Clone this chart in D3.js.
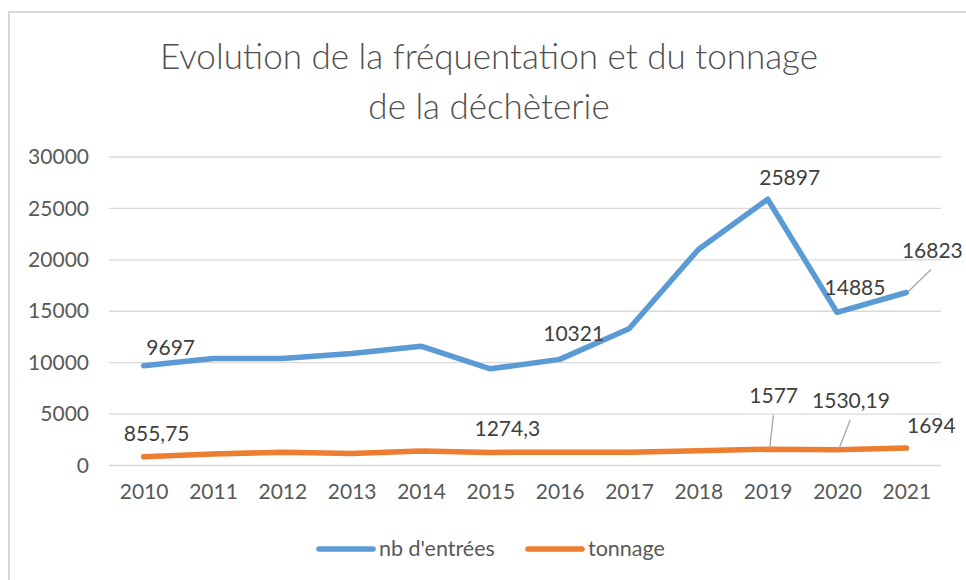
<!DOCTYPE html>
<html>
<head>
<meta charset="utf-8">
<script src="https://cdn.jsdelivr.net/npm/d3@7"></script>
<style>
  body { margin: 0; background: #fff; }
  svg { display: block; font-family: Lato, "Open Sans", sans-serif; }
</style>
</head>
<body>
<div id="chart"></div>
<script>
// données du graphique
var years = ['2010', '2011', '2012', '2013', '2014', '2015', '2016', '2017', '2018', '2019', '2020', '2021'];
var entrees = [9697, 10400, 10400, 10900, 11600, 9400, 10321, 13300, 21000, 25897, 14885, 16823];
var tonnage = [855.75, 1110, 1300, 1170, 1420, 1274.3, 1290, 1300, 1440, 1577, 1530.19, 1694];
var yTicks = [0, 5000, 10000, 15000, 20000, 25000, 30000];
var titleLines = ['Evolution de la fréquentation et du tonnage', 'de la déchèterie'];
var seriesNames = ["nb d'entrées", 'tonnage'];

var W = 966, H = 580;
var colors = ['#5b9bd5', '#ed7d31'];

var svg = d3.select('#chart').append('svg')
    .attr('width', W)
    .attr('height', H);

// cadre du graphique (coupé à droite et en bas)
svg.append('rect')
    .attr('x', 9).attr('y', 12)
    .attr('width', 1000).attr('height', 1000)
    .attr('fill', '#fff')
    .attr('stroke', '#d9d9d9')
    .attr('stroke-width', 2)

// titre
svg.append('g').selectAll('text')
    .data(titleLines)
    .enter().append('text')
    .attr('x', 489)
    .attr('y', (d, i) => 69 + i * 50)
    .attr('text-anchor', 'middle')
    .attr('font-size', 35)
    .attr('font-weight', 300)
    .attr('fill', '#505050')
    .text(d => d)

var x = d3.scalePoint()
    .domain(years)
    .range([109, 941])
    .padding(0.5)

var y = d3.scaleLinear()
    .domain([0, 30000])
    .range([465.5, 157])

// grille
svg.append('g').selectAll('line')
    .data(yTicks)
    .enter().append('line')
    .attr('x1', 109).attr('x2', 941)
    .attr('y1', d => y(d)).attr('y2', d => y(d))
    .attr('stroke', '#d9d9d9')
    .attr('stroke-width', 1.3)

var yAxis = svg.append('g')
    .attr('transform', 'translate(89,0)')
    .call(d3.axisLeft(y).tickValues(yTicks).tickSize(0).tickPadding(0).tickFormat(d3.format('d')))
yAxis.select('.domain').remove()
yAxis.selectAll('text')
    .attr('font-size', 21)
    .attr('font-family', 'Lato, "Open Sans", sans-serif')
    .attr('fill', '#595959')

var xAxis = svg.append('g')
    .attr('transform', 'translate(0,484)')
    .call(d3.axisBottom(x).tickSize(0).tickPadding(0))
xAxis.select('.domain').remove()
xAxis.selectAll('text')
    .attr('font-size', 21)
    .attr('font-family', 'Lato, "Open Sans", sans-serif')
    .attr('fill', '#595959')

var line = d3.line()
    .x((d, i) => x(years[i]))
    .y(d => y(d))

;[entrees, tonnage].forEach((serie, k) => {
    svg.append('path')
        .datum(serie)
        .attr('d', line)
        .attr('fill', 'none')
        .attr('stroke', colors[k])
        .attr('stroke-width', 5.5)
        .attr('stroke-linecap', 'round')
        .attr('stroke-linejoin', 'round')
})

// étiquettes de données : [série, index, dx, dy, ligne de rappel]
var labels = [
    [0, 0, 27, -11, false],
    [0, 6, 14, -18, false],
    [0, 9, 22, -14, false],
    [0, 10, 18, -17, false],
    [0, 11, 26, -35, true],
    [1, 0, 13, -16, false],
    [1, 5, 17, -16, false],
    [1, 9, 6, -46, true],
    [1, 10, 14, -42, true],
    [1, 11, 25, -15, false]
]
var fmt = v => String(v).replace('.', ',')

labels.forEach(l => {
    var serie = l[0] == 0 ? entrees : tonnage
    var px = x(years[l[1]]), py = y(serie[l[1]])
    if (l[4]) {
        svg.append('line')
            .attr('x1', px + 2).attr('y1', py - 1)
            .attr('x2', px + l[2] * 0.95).attr('y2', py + l[3] + 12)
            .attr('stroke', '#a6a6a6')
            .attr('stroke-width', 1.3)
    }
    svg.append('text')
        .attr('x', px + l[2])
        .attr('y', py + l[3])
        .attr('text-anchor', 'middle')
        .attr('font-size', 21)
        .attr('fill', '#404040')
        .text(fmt(serie[l[1]]))
})

// légende
var legend = svg.append('g')
var legendX = [319, 528]
seriesNames.forEach((name, k) => {
    legend.append('line')
        .attr('x1', legendX[k]).attr('x2', legendX[k] + 54)
        .attr('y1', 549).attr('y2', 549)
        .attr('stroke', colors[k])
        .attr('stroke-width', 5.5)
        .attr('stroke-linecap', 'round')
    legend.append('text')
        .attr('x', legendX[k] + 60)
        .attr('y', 556)
        .attr('font-size', 21.5)
        .attr('fill', '#595959')
        .text(name)
})
</script>
</body>
</html>
